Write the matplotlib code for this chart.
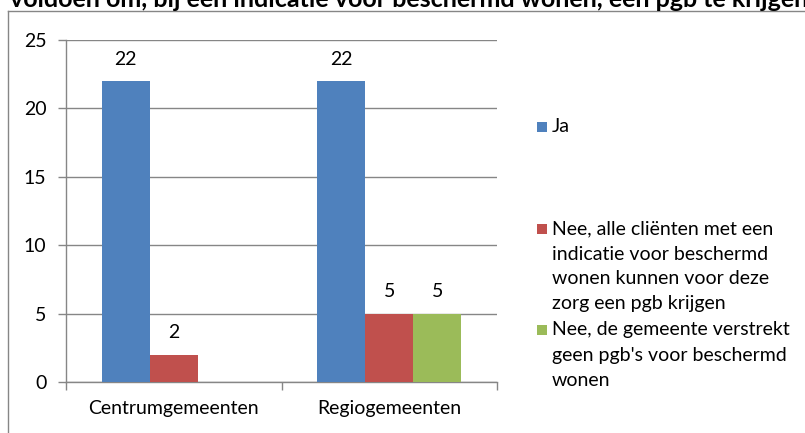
import matplotlib
matplotlib.use("Agg")
import matplotlib.pyplot as plt
from matplotlib.patches import Rectangle
from matplotlib.lines import Line2D
import numpy as np

plt.rcParams['font.family'] = ['Lato', 'DejaVu Sans']

categories = ["Centrumgemeenten", "Regiogemeenten"]
series_names = [
    "Ja",
    "Nee, alle cliënten met een\nindicatie voor beschermd\nwonen kunnen voor deze\nzorg een pgb krijgen",
    "Nee, de gemeente verstrekt\ngeen pgb's voor beschermd\nwonen",
]
values_ja = [22, 22]
values_nee_alle = [2, 5]
values_nee_geen = [None, 5]
colors = ["#4F81BD", "#C0504D", "#9BBB59"]
y_ticks = [0, 5, 10, 15, 20, 25]
title = "voldoen om, bij een indicatie voor beschermd wonen, een pgb te krijgen"

W, H = 805, 433
fig = plt.figure(figsize=(W / 100, H / 100), dpi=100)

def fx(px):
    return px / W

def fy(py):
    return 1 - py / H

FS = 14

ax = fig.add_axes([fx(66), fy(382), fx(497) - fx(66), fy(40) - fy(382)])

x = np.arange(len(categories))
bw = 48 / 215.5
all_series = [values_ja, values_nee_alle, values_nee_geen]
for i, (vals, col) in enumerate(zip(all_series, colors)):
    xs = [xi + (i - 1) * bw for xi, v in zip(x, vals) if v is not None]
    vs = [v for v in vals if v is not None]
    bars = ax.bar(xs, vs, width=bw, color=col, zorder=3)
    for b, v in zip(bars, vs):
        ax.annotate(str(v), (b.get_x() + b.get_width() / 2, v),
                    xytext=(0, 22), textcoords='offset pixels',
                    ha='center', va='center', fontsize=FS, color='#000000')

ax.set_xlim(-0.5, len(categories) - 0.5)
ax.set_ylim(0, 25)
ax.set_yticks(y_ticks)
ax.set_yticklabels([str(t) for t in y_ticks], fontsize=FS)
ax.yaxis.grid(True, color='#868686', linewidth=1.0, zorder=0)
ax.set_axisbelow(True)

ax.set_xticks(np.arange(-0.5, len(categories), 1.0))
ax.set_xticklabels([])
ax.set_xticks(x, minor=True)
ax.set_xticklabels(categories, minor=True, fontsize=FS)
ax.tick_params(axis='x', which='minor', length=0, pad=13)
ax.tick_params(axis='x', which='major', length=6, color='#868686', width=1.0)
ax.tick_params(axis='y', length=6, color='#868686', width=1.0, pad=8)

for s in ['top', 'right']:
    ax.spines[s].set_visible(False)
for s in ['left', 'bottom']:
    ax.spines[s].set_color('#868686')
    ax.spines[s].set_linewidth(1.0)

# chart border (partially visible)
fig.add_artist(Line2D([fx(8), fx(8)], [fy(11), 0], transform=fig.transFigure, color='#868686', lw=1.0))
fig.add_artist(Line2D([fx(8), 1], [fy(11), fy(11)], transform=fig.transFigure, color='#868686', lw=1.0))

# title, cut off at top as in the reference
fig.text(fx(10), fy(7), title, ha='left', va='baseline', fontsize=18, fontweight='bold')

# legend
leg_y = [127, 229, 330]
line_h = 25
for name, col, yc in zip(series_names, colors, leg_y):
    fig.add_artist(Rectangle((fx(537), fy(yc + 5)), fx(10), 10 / H,
                             transform=fig.transFigure, facecolor=col, edgecolor='none'))
    lines = name.split("\n")
    for k, ln in enumerate(lines):
        fig.text(fx(552), fy(yc + k * line_h), ln, ha='left', va='center', fontsize=FS)

fig.savefig("out.png", dpi=100)
